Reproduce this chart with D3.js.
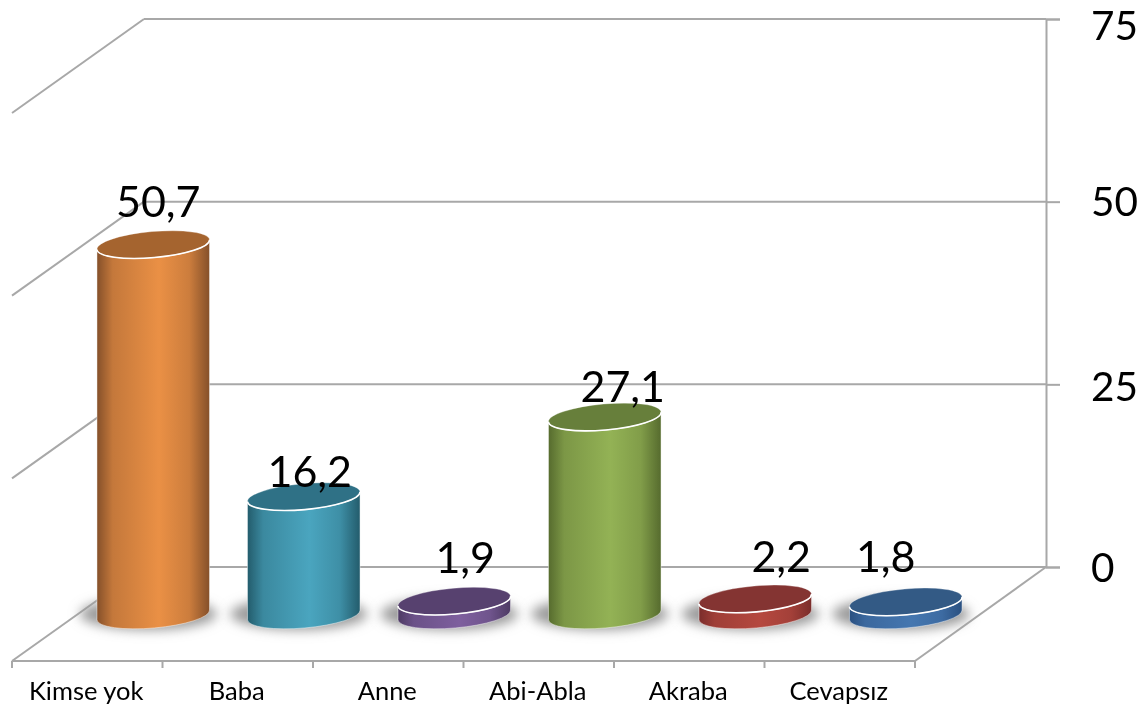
<!DOCTYPE html>
<html><head><meta charset="utf-8">
<script src="https://cdn.jsdelivr.net/npm/d3@7/dist/d3.min.js"></script>
<style>html,body{margin:0;padding:0;background:#fff}svg{display:block;filter:blur(.35px)}text{font-family:Lato,"Open Sans",sans-serif;fill:#000}</style>
</head><body><svg width="1143" height="713"></svg>
<script>
const categories=["Kimse yok","Baba","Anne","Abi-Abla","Akraba","Cevapsız"];
const values=[50.7,16.2,1.9,27.1,2.2,1.8];
const valueLabels=["50,7","16,2","1,9","27,1","2,2","1,8"];
const yTicks=[0,25,50,75];
const capColors=["#a5642f","#2f7186","#57416f","#677f3b","#843432","#335a85"];
const midColors=["#ea9045","#4aa5bf","#7e5f9e","#93b255","#b5483f","#4577b0"];
const edgeColors=["#85502a","#235c6c","#4d3a63","#566b2e","#7a2d2b","#2a5080"];

const depthX=132,depthY=-94;
const x=d3.scaleBand().domain(categories).range([12,915]);
const y=d3.scaleLinear().domain([0,75]).range([567,19]);
const backLeft=12+depthX;
const svg=d3.select("svg");
const defs=svg.append("defs");
defs.append("filter").attr("id","sh").attr("x","-30%").attr("y","-80%").attr("width","160%").attr("height","260%")
  .append("feGaussianBlur").attr("stdDeviation",6);
categories.forEach((c,i)=>{
  const g=defs.append("linearGradient").attr("id","g"+i);
  [[0,edgeColors[i]],[.14,d3.interpolateRgb(edgeColors[i],midColors[i])(.62)],[.55,midColors[i]],[.82,d3.interpolateRgb(edgeColors[i],midColors[i])(.7)],[1,edgeColors[i]]]
   .forEach(s=>g.append("stop").attr("offset",s[0]).attr("stop-color",s[1]));
});
const grid="#a8a8a8";
// walls and floor
const walls=svg.append("g").attr("stroke",grid).attr("stroke-width",2).attr("fill","none");
yTicks.forEach(t=>{
  walls.append("line").attr("x1",backLeft).attr("x2",1046).attr("y1",y(t)).attr("y2",y(t));
  walls.append("line").attr("x1",backLeft).attr("y1",y(t)).attr("x2",12).attr("y2",y(t)-depthY);
});
walls.append("line").attr("x1",915).attr("y1",661).attr("x2",1046).attr("y2",567);

// right axis
const tickNudge={0:2,25:3,50:1,75:8};
const ax=svg.append("g").attr("transform","translate(1046,0)")
  .call(d3.axisRight(y).tickValues(yTicks).tickSize(14).tickPadding(31));
ax.selectAll("path").attr("stroke",grid).attr("stroke-width",2);
ax.selectAll("line").attr("stroke",grid).attr("stroke-width",2);
ax.selectAll("text").style("font-size","40.5px").style("font-family","Lato,'Open Sans',sans-serif").attr("fill","#000").attr("y",d=>tickNudge[d]);

// bottom axis
const bx=svg.append("g").attr("transform","translate(0,661)")
  .call(d3.axisBottom(x).tickSize(0).tickPadding(21));
bx.select("path").attr("stroke",grid).attr("stroke-width",2).attr("d","M12,0H915");
bx.selectAll("text").style("font-size","25.5px").style("font-family","Lato,'Open Sans',sans-serif").attr("fill","#000").attr("x",-1);
svg.append("g").selectAll("line").data(d3.range(categories.length+1)).join("line")
  .attr("x1",i=>12+i*x.bandwidth()).attr("x2",i=>12+i*x.bandwidth())
  .attr("y1",661).attr("y2",668).attr("stroke",grid).attr("stroke-width",2);

// cylinders
const rx=56.5, ry=13, tilt=-5, a=tilt*Math.PI/180, ex=rx*Math.cos(a), ey=rx*Math.sin(a);
const baseShift=48;
const labelDx=[5,6,11,18,26,-20], labelDy=[-28,-10,-28,-15,-27,-30];
categories.forEach((c,i)=>{
  const cx=x(c)+x.bandwidth()/2+66;
  const by=y(0)+baseShift, ty=y(values[i])+baseShift;
  const g=svg.append("g");
  g.append("ellipse").attr("cx",cx-5).attr("cy",by-1).attr("rx",rx+12).attr("ry",ry+3)
    .attr("fill","#9a9a9a").attr("filter","url(#sh)");
  const body=`M${cx-ex},${ty-ey} L${cx-ex},${by-ey} A${rx},${ry} ${tilt} 0 0 ${cx+ex},${by+ey} L${cx+ex},${ty+ey} A${rx},${ry} ${tilt} 0 1 ${cx-ex},${ty-ey}Z`;
  g.append("path").attr("d",body).attr("fill",`url(#g${i})`).attr("stroke","#fff").attr("stroke-opacity",.45).attr("stroke-width",1);
  g.append("ellipse").attr("cx",cx).attr("cy",ty).attr("rx",rx).attr("ry",ry)
    .attr("transform",`rotate(${tilt} ${cx} ${ty})`).attr("fill",capColors[i])
    .attr("stroke","#fff").attr("stroke-opacity",.35).attr("stroke-width",1);
  g.append("path").attr("d",`M${cx-ex},${ty-ey} A${rx},${ry} ${tilt} 0 0 ${cx+ex},${ty+ey}`)
    .attr("fill","none").attr("stroke","#fff").attr("stroke-width",1.6);
});
// value labels
svg.append("g").selectAll("text").data(categories).join("text")
  .attr("text-anchor","middle").style("font-size","43px")
  .attr("x",(c,i)=>x(c)+x.bandwidth()/2+66+labelDx[i])
  .attr("y",(c,i)=>y(values[i])+baseShift+labelDy[i])
  .text((c,i)=>valueLabels[i]);
</script></body></html>
